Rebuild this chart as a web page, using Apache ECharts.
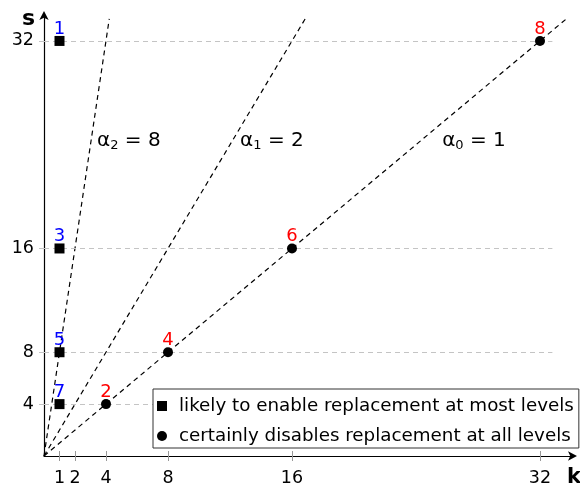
<!DOCTYPE html>
<html><head><meta charset="utf-8">
<script src="https://cdn.jsdelivr.net/npm/echarts@6/dist/echarts.min.js"></script>
<style>html,body{margin:0;padding:0;background:#fff}#c{width:580px;height:490px}</style>
</head><body><div id="c"></div>
<script>
const FONT = 'DejaVu Sans';
const xTicks = [1, 2, 4, 8, 16, 32];
const yTicks = [4, 8, 16, 32];
const squareK = [1, 1, 1, 1];
const squareS = [32, 16, 8, 4];
const squareIds = ['1', '3', '5', '7'];
const circleK = [4, 8, 16, 32];
const circleS = [4, 8, 16, 32];
const circleIds = ['2', '4', '6', '8'];
const alphaSub = ['2', '1', '0'];
const alphaVal = [8, 2, 1];
const rayEndK = [4.21, 16.85, 33.7];
const rayEndS = [33.7, 33.7, 33.7];
const seriesNames = ['likely to enable replacement at most levels', 'certainly disables replacement at all levels'];

const alphaLabelPos = [[3.42, 24.3], [12.65, 24.3], [25.69, 24.3]];
const gridLineEnd = 32.8;

const chart = echarts.init(document.getElementById('c'), null, {renderer: 'canvas'});

const rays = alphaVal.map((a, i) => ({
  type: 'line', silent: true, showSymbol: false, symbol: 'none',
  data: [[0, 0], [rayEndK[i], rayEndS[i]]],
  lineStyle: {color: '#000', width: 1.2, type: [5, 4]},
  z: 3
}));

const option = {
  animation: false,
  textStyle: {fontFamily: FONT},
  grid: {left: 44, top: 15, width: 529, height: 441},
  legend: {
    orient: 'vertical', left: 153, top: 389, z: 20,
    data: seriesNames,
    itemWidth: 10, itemHeight: 10, itemGap: 12,
    padding: [8, 5, 3, 4],
    borderColor: '#333', borderWidth: 1, backgroundColor: '#fff',
    textStyle: {fontFamily: FONT, fontSize: 18.3, color: '#000', padding: [0, 0, 0, 7]}
  },
  xAxis: [{
    type: 'value', min: 0, max: 34.13,
    axisLine: {show: true, lineStyle: {color: '#000', width: 1.2}, symbol: ['none', 'arrow'], symbolSize: [7, 9], symbolOffset: [0, 4]},
    axisTick: {show: true, length: 5, customValues: xTicks, lineStyle: {color: '#999'}},
    axisLabel: {customValues: xTicks, fontFamily: FONT, fontSize: 17.5, color: '#000', margin: 13},
    splitLine: {show: false}
  }, {
    type: 'value', min: 0, max: 34.13, position: 'bottom', offset: 0,
    axisLine: {show: false},
    axisTick: {show: true, inside: true, length: 5, customValues: xTicks, lineStyle: {color: '#999'}},
    axisLabel: {show: false},
    splitLine: {show: false}
  }],
  yAxis: {
    type: 'value', min: 0, max: 34.0,
    axisLine: {show: true, lineStyle: {color: '#000', width: 1.2}, symbol: ['none', 'arrow'], symbolSize: [7, 9], symbolOffset: [0, 4]},
    axisTick: {show: true, length: 5, customValues: yTicks, lineStyle: {color: '#c4c4c4', type: [5, 4]}},
    axisLabel: {customValues: yTicks, fontFamily: FONT, fontSize: 17.5, color: '#000', margin: 10},
    splitLine: {show: false}
  },
  graphic: [
    {type: 'text', left: 22, top: 8, z: 30, style: {text: 's', font: 'bold 22px "DejaVu Sans"', fill: '#000'}},
    {type: 'text', left: 567, top: 467, z: 30, style: {text: 'k', font: 'bold 21px "DejaVu Sans"', fill: '#000'}}
  ],
  series: [
    {
      type: 'line', silent: true, showSymbol: false, data: [],
      markLine: {
        silent: true, symbol: 'none', label: {show: false},
        lineStyle: {color: '#c4c4c4', width: 1, type: [5, 4]},
        data: yTicks.map(v => [{coord: [0, v]}, {coord: [gridLineEnd, v]}])
      },
      z: 1
    },
    ...rays,
    {
      name: seriesNames[0], type: 'scatter', symbol: 'rect', symbolSize: 10,
      itemStyle: {color: '#000', opacity: 1},
      data: squareK.map((k, i) => ({value: [k, squareS[i]], label: {formatter: squareIds[i]}})),
      label: {show: true, position: 'top', distance: -2, color: '#0000ff', fontSize: 18, fontFamily: FONT},
      z: 5
    },
    {
      name: seriesNames[1], type: 'scatter', symbol: 'circle', symbolSize: 10,
      itemStyle: {color: '#000', opacity: 1},
      data: circleK.map((k, i) => ({value: [k, circleS[i]], label: {formatter: circleIds[i]}})),
      label: {show: true, position: 'top', distance: -2, color: '#ff0000', fontSize: 18, fontFamily: FONT},
      z: 5
    },
    {
      type: 'scatter', silent: true, symbolSize: 0,
      itemStyle: {opacity: 1},
      data: alphaLabelPos.map((p, i) => ({
        value: p,
        label: {formatter: '{a|α}{s|' + alphaSub[i] + '}{a| = ' + alphaVal[i] + '}'}
      })),
      label: {
        show: true, position: 'right', distance: 0,
        rich: {
          a: {fontSize: 20, fontFamily: FONT, color: '#000', lineHeight: 24},
          s: {fontSize: 13, fontFamily: FONT, color: '#000', padding: [10, 0, 0, 0]}
        }
      },
      z: 4
    }
  ]
};
chart.setOption(option);
</script></body></html>
